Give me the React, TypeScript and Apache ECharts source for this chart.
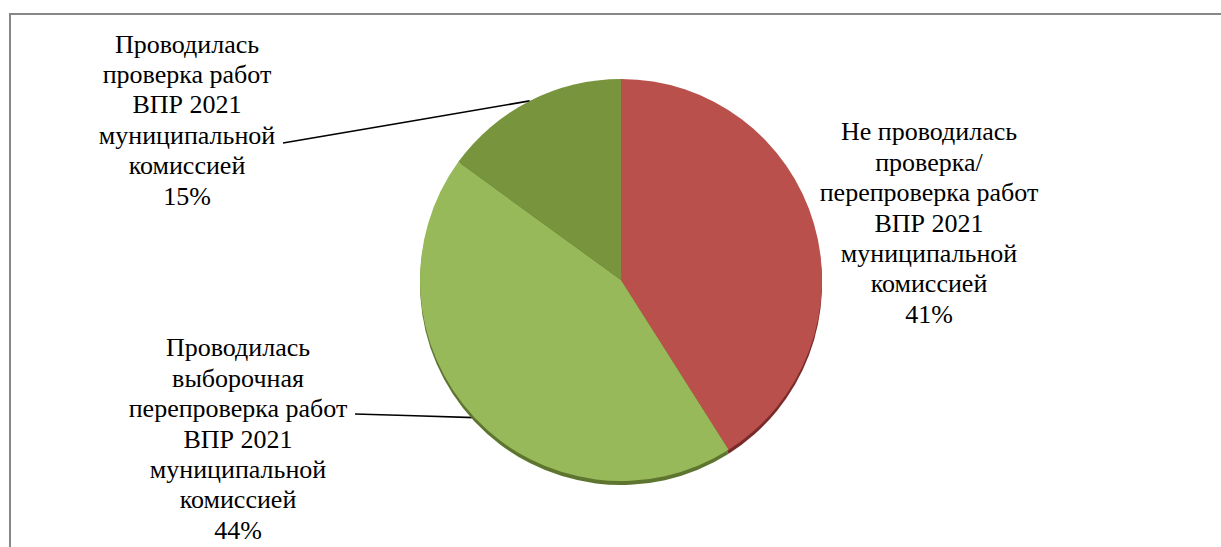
import React, { useEffect, useRef } from "react";
import * as echarts from "echarts";

const categories = [
  "Не проводилась\nпроверка/\nперепроверка работ\nВПР 2021\nмуниципальной\nкомиссией",
  "Проводилась\nвыборочная\nперепроверка работ\nВПР 2021\nмуниципальной\nкомиссией",
  "Проводилась\nпроверка работ\nВПР 2021\nмуниципальной\nкомиссией",
];
const values = [41, 44, 15];
const colors = ["#B9504C", "#98B959", "#78943D"];
const rimColors = ["#7A2B29", "#5E7530", "#4F6326"];
const showLeader = [false, true, true];

// label block centres and leader-line end points (layout only)
const LABEL_POS = [
  { x: 929, y: 223 },
  { x: 238, y: 439 },
  { x: 187, y: 120 },
];
const LEADER_END: (number[] | null)[] = [null, [355, 414], [283, 143]];

const CENTER = [621, 280];
const RADIUS = 201;

export default function App() {
  const ref = useRef<HTMLDivElement>(null);
  useEffect(() => {
    if (!ref.current) return;
    const chart = echarts.init(ref.current, undefined, { renderer: "svg" });
    const font = "Liberation Serif";
    chart.setOption({
      animation: false,
      backgroundColor: "#ffffff",
      graphic: [
        {
          type: "rect",
          z: -10,
          shape: { x: 10, y: 14, width: 1400, height: 700 },
          style: { fill: "none", stroke: "#878787", lineWidth: 2 },
        },
      ],
      series: [
        {
          type: "pie",
          silent: true,
          center: [CENTER[0], CENTER[1] + 4],
          radius: RADIUS,
          label: { show: false },
          labelLine: { show: false },
          data: values.map((v, i) => ({
            value: v,
            name: categories[i],
            itemStyle: { color: rimColors[i] },
          })),
        },
        {
          type: "pie",
          silent: true,
          center: CENTER,
          radius: RADIUS,
          avoidLabelOverlap: false,
          label: {
            show: true,
            position: "outside",
            formatter: (p: any) =>
              (p.name + "\n" + Math.round(p.percent) + "%")
                .split("\n")
                .map((s: string) => "{t|" + s + "}")
                .join("\n"),
            rich: {
              t: {
                fontFamily: font,
                fontSize: 26,
                lineHeight: 30.4,
                color: "#000000",
              },
            },
            align: "center",
          },
          labelLine: {
            show: true,
            lineStyle: { color: "#000000", width: 1.6 },
          },
          labelLayout: (params: any) => {
            const i = params.dataIndex;
            const p = LABEL_POS[i];
            const res: any = { x: p.x, y: p.y, align: "center", verticalAlign: "middle" };
            const end = LEADER_END[i];
            if (end && params.labelLinePoints) {
              const p0 = params.labelLinePoints[0];
              res.labelLinePoints = [
                [p0[0], p0[1]],
                [(p0[0] + end[0]) / 2, (p0[1] + end[1]) / 2],
                [end[0], end[1]],
              ];
            }
            return res;
          },
          data: values.map((v, i) => ({
            value: v,
            name: categories[i],
            itemStyle: { color: colors[i] },
            labelLine: { show: showLeader[i] },
          })),
        },
      ],
    });
    return () => chart.dispose();
  }, []);
  return (
    <div
      ref={ref}
      style={{ position: "absolute", left: 0, top: 0, width: 1221, height: 547 }}
    />
  );
}
